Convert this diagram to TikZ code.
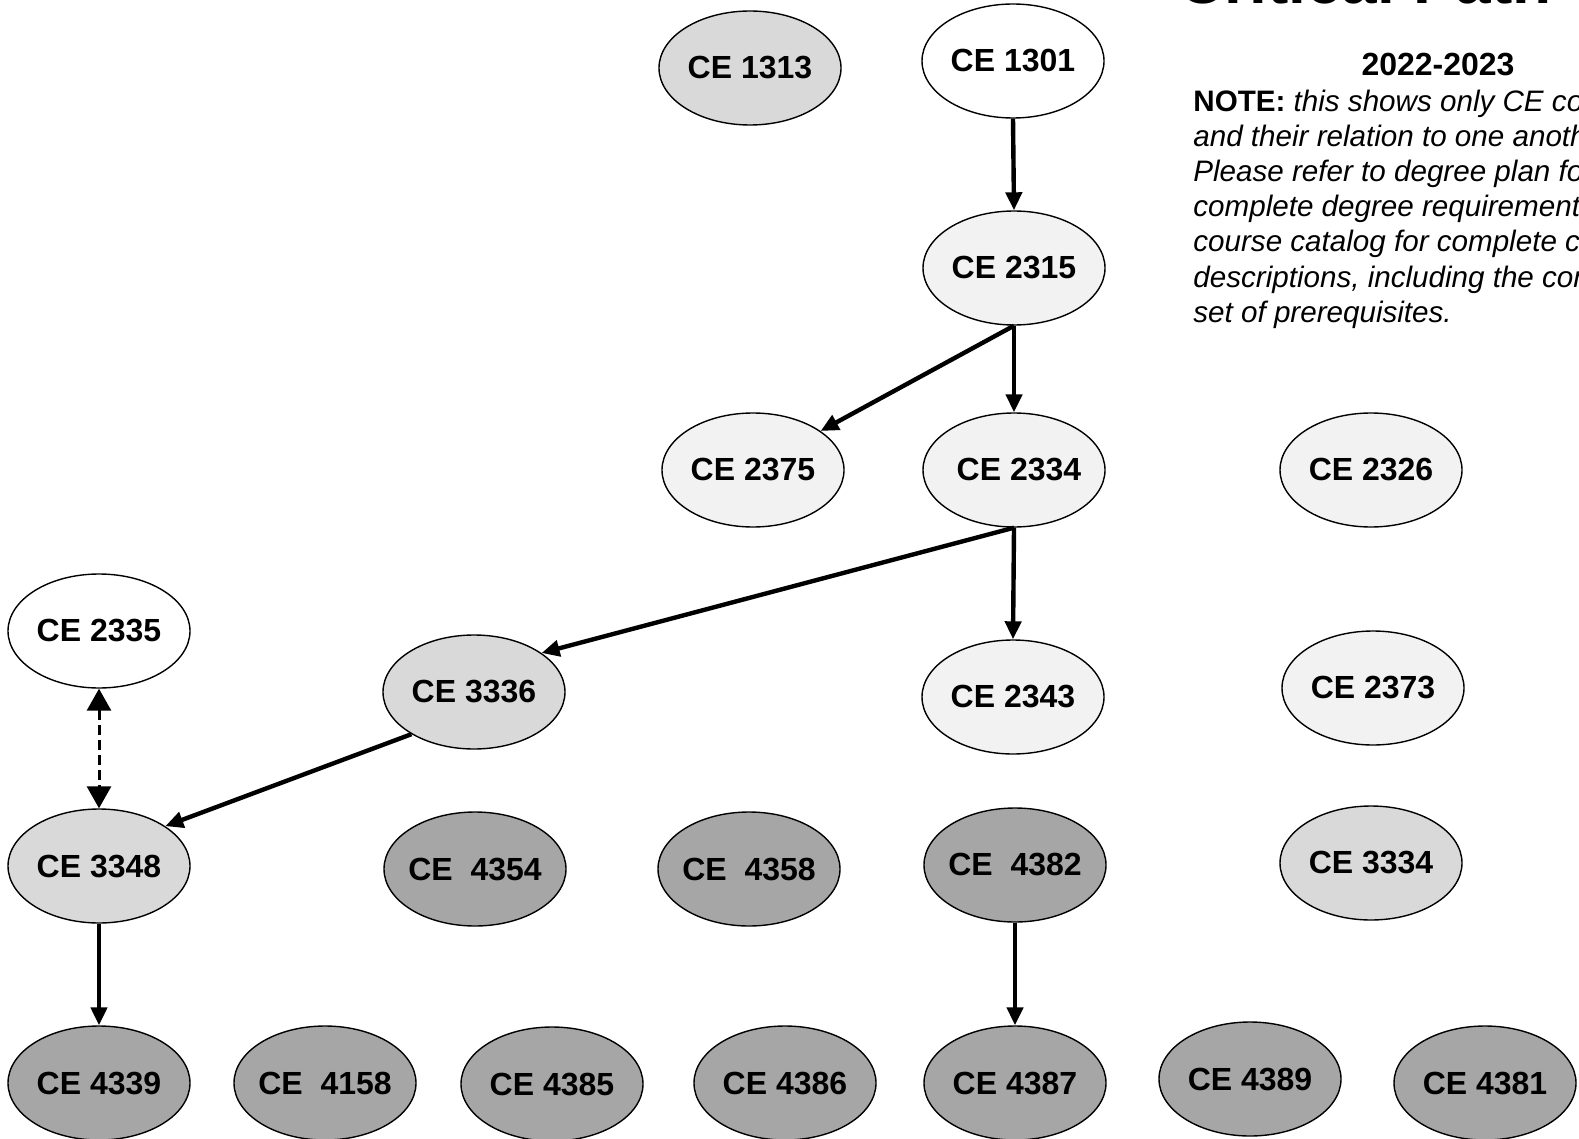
\documentclass[tikz,border=0pt]{standalone}
\usepackage{fontspec}
\setmainfont{Liberation Sans}
\usetikzlibrary{shapes.geometric,arrows.meta}
\definecolor{fillA}{HTML}{F2F2F2}
\definecolor{fillB}{HTML}{D9D9D9}
\definecolor{fillC}{HTML}{A6A6A6}
\newcommand\lbl[1]{\makebox[0pt]{#1}}
\begin{document}
\begin{tikzpicture}[x=0.5pt,y=-0.5pt,
  course/.style={ellipse, draw, line width=0.7pt, minimum width=91pt, minimum height=57pt,
    inner sep=0pt, font=\fontsize{16}{19}\selectfont\bfseries},
  cwhite/.style={course, fill=white},
  clight/.style={course, fill=fillA},
  cmid/.style={course, fill=fillB},
  cdark/.style={course, fill=fillC},
  prereq/.style={line width=2.2pt, -{Triangle[length=9pt,width=8pt]}},
  coreq/.style={line width=1.5pt, dash pattern=on 5pt off 2.5pt,
    {Triangle[length=11pt,width=12pt]}-{Triangle[length=11pt,width=12pt]}},
  notetext/.style={anchor=base west, inner sep=0pt, font=\fontsize{14.8}{17.5}\selectfont\itshape}
]
\useasboundingbox (0,0) rectangle (1579,1139);
\clip (0,0) rectangle (1579,1139);
\fill[white] (0,0) rectangle (1579,1139);

% title (cut off at the top edge)
\node[anchor=base west, inner sep=0pt, font=\fontsize{32}{38}\selectfont\bfseries] (title) at (1178,4) {Critical Path};
\node[anchor=base, inner sep=0pt, font=\fontsize{16}{19}\selectfont\bfseries] (year) at (1438,76) {2022-2023};
\node[notetext] (n1) at (1193,112) {\textbf{\upshape NOTE:} this shows only CE courses};
\node[notetext] (n2) at (1193,147) {and their relation to one another.};
\node[notetext] (n3) at (1193,182) {Please refer to degree plan for};
\node[notetext] (n4) at (1193,217) {complete degree requirements and};
\node[notetext] (n5) at (1193,252) {course catalog for complete course};
\node[notetext] (n6) at (1193,287) {descriptions, including the complete};
\node[notetext] (n7) at (1193,322) {set of prerequisites.};

% courses
\node[cmid]   (c1313) at (750,68)   {\lbl{CE 1313}};
\node[cwhite] (c1301) at (1013,61)  {\lbl{CE 1301}};
\node[clight] (c2315) at (1014,268) {\lbl{CE 2315}};
\node[clight] (c2375) at (753,470)  {\lbl{CE 2375}};
\node[clight] (c2334) at (1014,470) {\lbl{\hspace{5pt}CE 2334}};
\node[clight] (c2326) at (1371,470) {\lbl{CE 2326}};
\node[cwhite] (c2335) at (99,631)   {\lbl{CE 2335}};
\node[cmid]   (c3336) at (474,692)  {\lbl{CE 3336}};
\node[clight] (c2343) at (1013,697) {\lbl{CE 2343}};
\node[clight] (c2373) at (1373,688) {\lbl{CE 2373}};
\node[cmid]   (c3348) at (99,866)   {\lbl{CE 3348}};
\node[cdark]  (c4354) at (475,869)  {\lbl{CE\ \ 4354}};
\node[cdark]  (c4358) at (749,869)  {\lbl{CE\ \ 4358}};
\node[cdark]  (c4382) at (1015,865) {\lbl{CE\ \ 4382}};
\node[cmid]   (c3334) at (1371,863) {\lbl{CE 3334}};
\node[cdark]  (c4339) at (99,1083)  {\lbl{CE 4339}};
\node[cdark]  (c4158) at (325,1083) {\lbl{CE\ \ 4158}};
\node[cdark]  (c4385) at (552,1084) {\lbl{CE 4385}};
\node[cdark]  (c4386) at (785,1083) {\lbl{CE 4386}};
\node[cdark]  (c4387) at (1015,1083) {\lbl{CE 4387}};
\node[cdark]  (c4389) at (1250,1079) {\lbl{CE 4389}};
\node[cdark]  (c4381) at (1485,1083) {\lbl{CE 4381}};

% prerequisites
\draw[prereq] (c1301.south) -- (c2315.north);
\draw[prereq] (c2315.south) -- (c2375.30);
\draw[prereq] (c2315.south) -- (c2334.north);
\draw[prereq] (c2334.south) -- (c3336.30);
\draw[prereq] (c2334.south) -- (c2343.north);
\draw[prereq] (c3336.214) -- (c3348.31);
\draw[prereq] (c3348.south) -- (c4339.north);
\draw[prereq] (c4382.south) -- (c4387.north);
\draw[coreq] (c2335.south) -- (c3348.north);
\end{tikzpicture}
\end{document}
